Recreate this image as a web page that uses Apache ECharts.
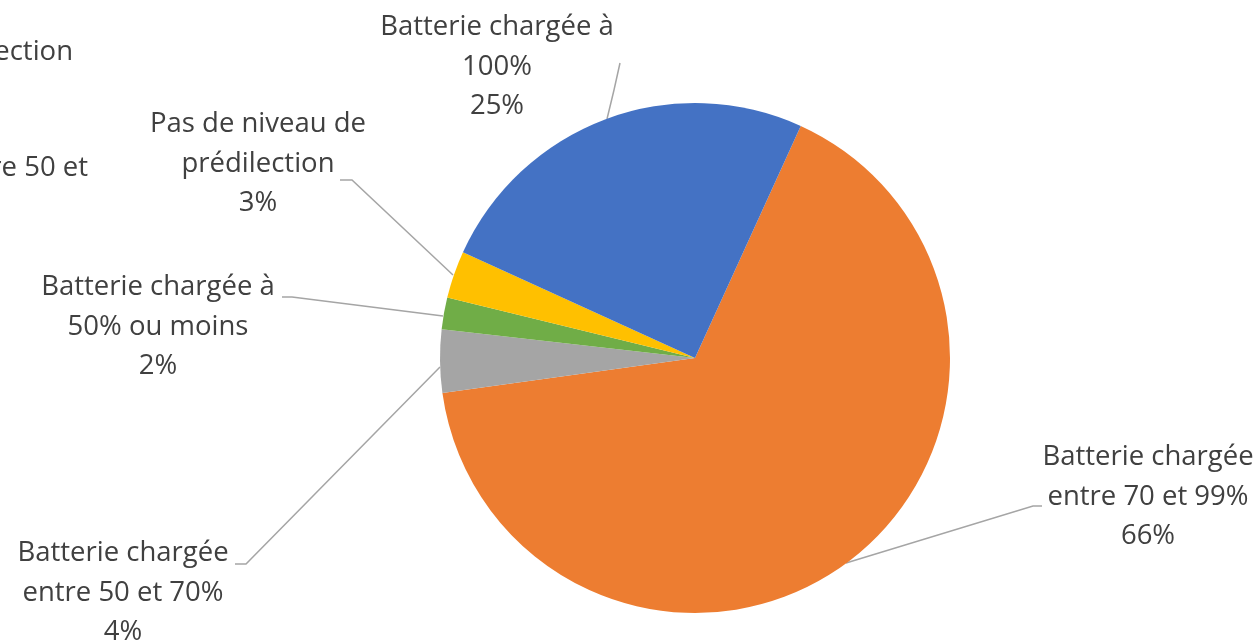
<!DOCTYPE html>
<html>
<head>
<meta charset="utf-8">
<script src="https://cdn.jsdelivr.net/npm/echarts@6/dist/echarts.min.js"></script>
<style>html,body{margin:0;padding:0;background:#fff}#c{width:1260px;height:643px}</style>
</head>
<body>
<div id="c"></div>
<script>
// Data
var categories = [
  'Batterie chargée\nentre 70 et 99%',
  'Batterie chargée\nentre 50 et 70%',
  'Batterie chargée à\n50% ou moins',
  'Pas de niveau de\nprédilection',
  'Batterie chargée à\n100%'
];
var values = [66, 4, 2, 3, 25];
var colors = ['#ED7D31', '#A5A5A5', '#70AD47', '#FFC000', '#4472C4'];

// Label layout (positions only)
var labelPos = [
  {x: 1148, y: 497, line: [[846, 563], [1033, 506], [1042, 506]]},
  {x: 123, y: 593, line: [[440, 367], [246, 564], [235, 564]]},
  {x: 158, y: 327, line: [[443, 316], [292, 297], [282, 297]]},
  {x: 258, y: 164, line: [[453, 275], [352, 180], [340, 180]]},
  {x: 497, y: 67, line: [[607, 119], [614, 90], [620, 63]]}
];

var chart = echarts.init(document.getElementById('c'), null, {renderer: 'canvas'});
var font = '"Open Sans", "Noto Sans", sans-serif';
var fs = 27.5;
chart.setOption({
  animation: false,
  backgroundColor: '#ffffff',
  color: colors,
  graphic: [
    {type: 'text', style: {text: 'prédilection', x: 73, y: 52, align: 'right', verticalAlign: 'middle', font: fs + 'px ' + font, fill: '#404040'}},
    {type: 'text', style: {text: 'entre 50 et', x: 88, y: 168, align: 'right', verticalAlign: 'middle', font: fs + 'px ' + font, fill: '#404040'}}
  ],
  series: [{
    type: 'pie',
    center: [695, 358],
    radius: 255,
    startAngle: 65.5,
    clockwise: true,
    avoidLabelOverlap: false,
    itemStyle: {borderWidth: 0},
    label: {
      show: true,
      formatter: function (p) { return p.name + '\n' + p.value + '%'; },
      fontFamily: font,
      fontSize: fs,
      lineHeight: 39.5,
      color: '#404040',
      align: 'center'
    },
    labelLine: {show: true, lineStyle: {color: '#A5A5A5', width: 1.5}},
    labelLayout: function (params) {
      var p = labelPos[params.dataIndex];
      return {x: p.x, y: p.y, align: 'center', verticalAlign: 'middle', labelLinePoints: p.line, hideOverlap: false};
    },
    data: categories.map(function (c, i) { return {name: c, value: values[i]}; })
  }]
});
</script>
</body>
</html>
